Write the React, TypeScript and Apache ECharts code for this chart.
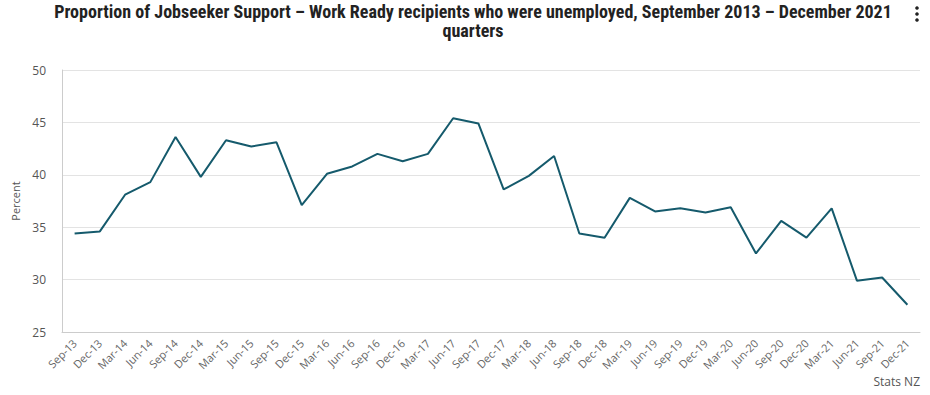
import React, { useEffect, useRef } from "react";
import * as echarts from "echarts";

const categories = [
  "Sep-13", "Dec-13", "Mar-14", "Jun-14", "Sep-14", "Dec-14", "Mar-15", "Jun-15", "Sep-15", "Dec-15",
  "Mar-16", "Jun-16", "Sep-16", "Dec-16", "Mar-17", "Jun-17", "Sep-17", "Dec-17", "Mar-18", "Jun-18",
  "Sep-18", "Dec-18", "Mar-19", "Jun-19", "Sep-19", "Dec-19", "Mar-20", "Jun-20", "Sep-20", "Dec-20",
  "Mar-21", "Jun-21", "Sep-21", "Dec-21",
];

const unemployedPercent = [
  34.4, 34.6, 38.1, 39.3, 43.6, 39.8, 43.3, 42.7, 43.1, 37.1,
  40.1, 40.8, 42.0, 41.3, 42.0, 45.4, 44.9, 38.6, 39.9, 41.8,
  34.4, 34.0, 37.8, 36.5, 36.8, 36.4, 36.9, 32.5, 35.6, 34.0,
  36.8, 29.9, 30.2, 27.6,
];

const yTicks = { min: 25, max: 50, interval: 5 };

const titleText =
  "Proportion of Jobseeker Support – Work Ready recipients who were unemployed, September 2013 – December 2021\nquarters";

export default function App() {
  const ref = useRef<HTMLDivElement>(null);
  useEffect(() => {
    if (!ref.current) return;
    const chart = echarts.init(ref.current, undefined, { renderer: "svg" });
    chart.setOption({
      animation: false,
      backgroundColor: "#ffffff",
      title: {
        text: titleText,
        left: 468,
        top: -3,
        textAlign: "center",
        textStyle: {
          fontFamily: "Liberation Sans Narrow, Arial Narrow, Roboto Condensed, sans-serif",
          fontWeight: "bold",
          fontSize: 18,
          color: "#222222",
          lineHeight: 19,
        },
      },
      graphic: [
        { type: "circle", shape: { cx: 917, cy: 8, r: 1.8 }, style: { fill: "#222" } },
        { type: "circle", shape: { cx: 917, cy: 14, r: 1.8 }, style: { fill: "#222" } },
        { type: "circle", shape: { cx: 917, cy: 20, r: 1.8 }, style: { fill: "#222" } },
        {
          type: "text",
          right: 10,
          top: 375,
          style: {
            text: "Stats NZ",
            fill: "#555555",
            fontSize: 12,
            fontFamily: "Open Sans, sans-serif",
          },
        },
      ],
      grid: { left: 62, right: 10, top: 70, bottom: 63, containLabel: false },
      xAxis: {
        type: "category",
        data: categories,
        boundaryGap: true,
        axisLine: { lineStyle: { color: "#cccccc" } },
        axisTick: { alignWithLabel: true, length: 10, lineStyle: { color: "#cccccc" } },
        axisLabel: {
          rotate: 45,
          interval: 0,
          color: "#666666",
          fontSize: 11,
          fontFamily: "Open Sans, sans-serif",
          margin: 9,
        },
      },
      yAxis: {
        type: "value",
        min: yTicks.min,
        max: yTicks.max,
        interval: yTicks.interval,
        name: "Percent",
        nameLocation: "middle",
        nameGap: 38,
        nameRotate: 90,
        nameTextStyle: { color: "#555555", fontSize: 11, fontFamily: "Open Sans, sans-serif" },
        axisLine: { show: true, lineStyle: { color: "#cccccc" } },
        axisTick: { show: false },
        axisLabel: {
          color: "#555555",
          fontSize: 12,
          fontFamily: "Open Sans, sans-serif",
          margin: 16,
        },
        splitLine: { lineStyle: { color: "#e3e3e3" } },
      },
      series: [
        {
          type: "line",
          data: unemployedPercent,
          symbol: "none",
          lineStyle: { color: "#155a6c", width: 2 },
        },
      ],
    });
    return () => chart.dispose();
  }, []);
  return <div ref={ref} style={{ width: 930, height: 395, position: "absolute", left: 0, top: 0 }} />;
}
